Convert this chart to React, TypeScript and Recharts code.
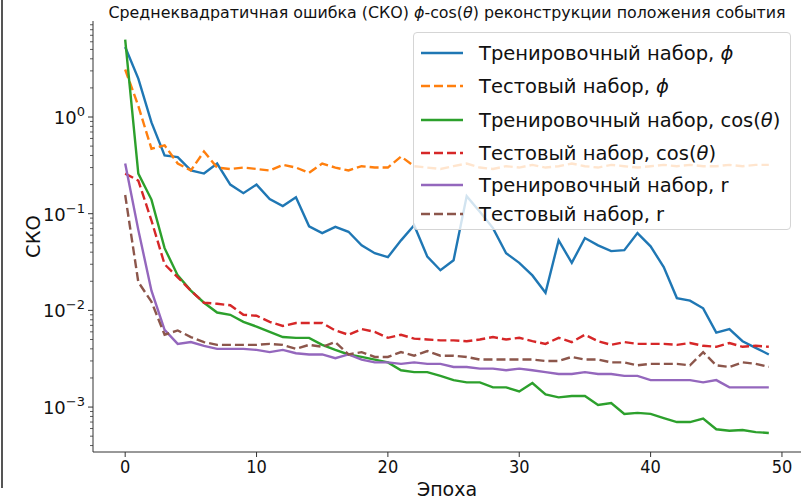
import React from "react"
import { LineChart, Line, XAxis, YAxis, Legend } from "recharts"

// Epochs on the x axis
const epochs = [
  0, 1, 2, 3, 4, 5, 6, 7, 8, 9,
  10, 11, 12, 13, 14, 15, 16, 17, 18, 19,
  20, 21, 22, 23, 24, 25, 26, 27, 28, 29,
  30, 31, 32, 33, 34, 35, 36, 37, 38, 39,
  40, 41, 42, 43, 44, 45, 46, 47, 48, 49
]

// RMSE per epoch
const trainPhi = [
  5.3, 2.5, 0.88, 0.40, 0.385, 0.28, 0.26, 0.33, 0.20, 0.163,
  0.20, 0.142, 0.12, 0.148, 0.074, 0.063, 0.073, 0.065, 0.047, 0.039,
  0.0355, 0.053, 0.076, 0.036, 0.026, 0.033, 0.152, 0.105, 0.071, 0.039,
  0.031, 0.023, 0.0152, 0.053, 0.031, 0.056, 0.047, 0.041, 0.042, 0.063,
  0.046, 0.028, 0.0134, 0.0126, 0.0105, 0.0059, 0.0064, 0.0048, 0.0041, 0.0035
]
const testPhi = [
  3.1, 1.3, 0.47, 0.51, 0.33, 0.28, 0.44, 0.30, 0.29, 0.30,
  0.29, 0.28, 0.32, 0.30, 0.265, 0.33, 0.30, 0.28, 0.31, 0.30,
  0.30, 0.39, 0.31, 0.30, 0.29, 0.31, 0.33, 0.30, 0.29, 0.31,
  0.30, 0.32, 0.30, 0.31, 0.33, 0.31, 0.30, 0.32, 0.31, 0.30,
  0.31, 0.32, 0.31, 0.32, 0.31, 0.31, 0.32, 0.31, 0.32, 0.32
]
const trainCos = [
  6.3, 0.26, 0.14, 0.044, 0.023, 0.016, 0.012, 0.0095, 0.009, 0.0076,
  0.0068, 0.006, 0.0053, 0.0052, 0.0052, 0.0044, 0.0039, 0.0035, 0.0033, 0.0031,
  0.0029, 0.0024, 0.0023, 0.0023, 0.0021, 0.0019, 0.0018, 0.0018, 0.0016, 0.0016,
  0.00145, 0.00177, 0.00135, 0.00126, 0.0013, 0.0013, 0.00105, 0.0011, 0.00085, 0.00087,
  0.00085, 0.00077, 0.0007, 0.0007, 0.00076, 0.00059, 0.00057, 0.00058, 0.00055, 0.00054
]
const testCos = [
  0.26, 0.22, 0.085, 0.03, 0.022, 0.016, 0.012, 0.0117, 0.0113, 0.009,
  0.0088, 0.0076, 0.0069, 0.0074, 0.0074, 0.0074, 0.0062, 0.0056, 0.0064, 0.006,
  0.0052, 0.0056, 0.0051, 0.005, 0.0049, 0.0049, 0.0048, 0.005, 0.0053, 0.005,
  0.0052, 0.0048, 0.0045, 0.0052, 0.0047, 0.0056, 0.0048, 0.0044, 0.0047, 0.0045,
  0.0045, 0.0045, 0.0044, 0.0046, 0.0043, 0.0042, 0.0046, 0.0042, 0.0043, 0.0042
]
const trainR = [
  0.33, 0.068, 0.016, 0.0063, 0.0045, 0.0047, 0.0043, 0.004, 0.004, 0.004,
  0.0039, 0.0037, 0.0039, 0.0036, 0.0035, 0.0035, 0.0032, 0.0035, 0.0031, 0.0029,
  0.0029, 0.0028, 0.0029, 0.0028, 0.0028, 0.0026, 0.0026, 0.0025, 0.0025, 0.0024,
  0.0025, 0.0024, 0.0023, 0.0022, 0.0022, 0.0023, 0.0022, 0.0022, 0.0021, 0.0021,
  0.0019, 0.0019, 0.0019, 0.0019, 0.0018, 0.0019, 0.0016, 0.0016, 0.0016, 0.0016
]
const testR = [
  0.156, 0.0196, 0.0123, 0.0056, 0.0062, 0.0053, 0.0047, 0.0044, 0.0044, 0.0044,
  0.0044, 0.0045, 0.0044, 0.004, 0.0044, 0.0042, 0.0047, 0.0035, 0.0037, 0.0033,
  0.0033, 0.0037, 0.0034, 0.0038, 0.0034, 0.0034, 0.0033, 0.0031, 0.0031, 0.0031,
  0.0031, 0.0031, 0.003, 0.003, 0.0033, 0.0031, 0.0031, 0.0029, 0.0029, 0.0027,
  0.0028, 0.0028, 0.0028, 0.0027, 0.0037, 0.0027, 0.0026, 0.0029, 0.0028, 0.0026
]

const xTicks = [0, 10, 20, 30, 40, 50]
const yMajor = [0.001, 0.01, 0.1, 1]
const yMinor = [
  0.0004, 0.0005, 0.0006, 0.0007, 0.0008, 0.0009,
  0.002, 0.003, 0.004, 0.005, 0.006, 0.007, 0.008, 0.009,
  0.02, 0.03, 0.04, 0.05, 0.06, 0.07, 0.08, 0.09,
  0.2, 0.3, 0.4, 0.5, 0.6, 0.7, 0.8, 0.9,
  2, 3, 4, 5, 6, 7, 8, 9
]

const FONT = "'DejaVu Sans', sans-serif"
const FONT_NARROW = "'DejaVu Sans Condensed', 'DejaVu Sans', sans-serif"

const Phi = () => <tspan fontStyle="italic">ϕ</tspan>
const Theta = () => <tspan fontStyle="italic">θ</tspan>

const series = [
  { key: "trainPhi", color: "#1f77b4", dashed: false, label: <>Тренировочный набор, <Phi /></> },
  { key: "testPhi", color: "#ff7f0e", dashed: true, label: <>Тестовый набор, <Phi /></> },
  { key: "trainCos", color: "#2ca02c", dashed: false, label: <>Тренировочный набор, cos(<Theta />)</> },
  { key: "testCos", color: "#d62728", dashed: true, label: <>Тестовый набор, cos(<Theta />)</> },
  { key: "trainR", color: "#9467bd", dashed: false, label: <>Тренировочный набор, r</> },
  { key: "testR", color: "#8c564b", dashed: true, label: <>Тестовый набор, r</> }
]

const data = epochs.map((epoch, i) => ({
  epoch,
  trainPhi: trainPhi[i],
  testPhi: testPhi[i],
  trainCos: trainCos[i],
  testCos: testCos[i],
  trainR: trainR[i],
  testR: testR[i]
}))

const DASH = "9 4"
const legendRows = [52, 85, 119, 152, 184, 213]

// log-axis tick: major ticks get a 10^n label, minor ones just a short mark
const LogTick = (props: any) => {
  const { x, y, payload } = props
  const v = payload.value
  const lg = Math.log10(v)
  const exp = Math.round(lg)
  if (Math.abs(lg - exp) > 1e-6) {
    return <line x1={x - 3} x2={x} y1={y} y2={y} stroke="#333" strokeWidth={0.8} />
  }
  return (
    <g>
      <line x1={x - 5} x2={x} y1={y} y2={y} stroke="#333" strokeWidth={1} />
      <text x={x - 8} y={y + 7} textAnchor="end" fontSize={18} fontFamily={FONT} fill="#111">
        <tspan>10</tspan>
        <tspan dy={-8} fontSize={13}>{exp === 0 ? "0" : "−" + Math.abs(exp)}</tspan>
      </text>
    </g>
  )
}

const EpochTick = (props: any) => {
  const { x, y, payload } = props
  return (
    <text x={x} y={y + 14} textAnchor="middle" fontSize={18} fontFamily={FONT_NARROW} fontStretch="condensed" fill="#111">
      {payload.value}
    </text>
  )
}

const LegendBox = () => (
  <div
    style={{
      position: "relative",
      width: 378,
      height: 198,
      boxSizing: "border-box",
      border: "1px solid #d5d5d5",
      borderRadius: 4,
      background: "rgba(255,255,255,0.8)"
    }}
  >
    <svg width={378} height={198} style={{ position: "absolute", left: 0, top: 0 }}>
      {series.map((s, i) => {
        const cy = legendRows[i] - 32
        return (
          <g key={s.key}>
            <line
              x1={7}
              x2={49}
              y1={cy}
              y2={cy}
              stroke={s.color}
              strokeWidth={2.5}
              strokeDasharray={s.dashed ? DASH : undefined}
            />
            <text x={65} y={cy + 7} fontSize={19.5} fontFamily={FONT} fill="#111">
              {s.label}
            </text>
          </g>
        )
      })}
    </svg>
  </div>
)

export default function App() {
  return (
    <div
      style={{
        position: "absolute",
        left: 0,
        top: 0,
        width: 801,
        height: 502,
        overflow: "hidden",
        background: "#fff"
      }}
    >
      <div style={{ position: "absolute", left: 1, top: 0, width: 2, height: 488, background: "#555" }} />
      <svg width={801} height={24} style={{ position: "absolute", left: 0, top: 0 }}>
        <text x={447} y={18} textAnchor="middle" fontSize={16.5} fontFamily={FONT_NARROW} fontStretch="condensed" fill="#111" textLength={677} lengthAdjust="spacingAndGlyphs">
          Среднеквадратичная ошибка (СКО) <Phi />-cos(<Theta />) реконструкции положения события
        </text>
      </svg>
      <LineChart
        width={810}
        height={502}
        data={data}
        margin={{ top: 21, right: 9, left: 0, bottom: 0 }}
        style={{ position: "absolute", left: 0, top: 0 }}
      >
        <XAxis
          dataKey="epoch"
          type="number"
          domain={[-2.45, 51.45]}
          ticks={xTicks}
          interval={0}
          height={50}
          tickSize={5}
          tickMargin={2}
          axisLine={{ stroke: "#333", strokeWidth: 1 }}
          tickLine={{ stroke: "#333", strokeWidth: 1 }}
          tick={<EpochTick />}
          allowDataOverflow
          label={{
            content: (p: any) => (
              <text
                x={p.viewBox.x + p.viewBox.width / 2}
                y={p.viewBox.y + 44}
                textAnchor="middle"
                fontSize={19}
                fontFamily={FONT}
                fill="#111"
              >
                Эпоха
              </text>
            )
          }}
        />
        <XAxis
          xAxisId="top"
          orientation="top"
          type="number"
          domain={[-2.45, 51.45]}
          height={0}
          tick={false}
          tickLine={false}
          axisLine={{ stroke: "#333", strokeWidth: 1 }}
        />
        <YAxis
          type="number"
          scale="log"
          domain={[0.000343, 9.84]}
          allowDataOverflow
          ticks={[...yMinor, ...yMajor]}
          interval={0}
          width={93}
          tickSize={0}
          tickMargin={0}
          tickLine={false}
          axisLine={{ stroke: "#333", strokeWidth: 1 }}
          tick={<LogTick />}
          label={{
            content: (p: any) => {
              const cx = 33
              const cy = p.viewBox.y + p.viewBox.height / 2
              return (
                <text
                  x={cx}
                  y={cy}
                  transform={`rotate(-90 ${cx} ${cy})`}
                  textAnchor="middle"
                  dominantBaseline="central"
                  fontSize={19.5}
                  fontFamily={FONT}
                  fill="#111"
                >
                  СКО
                </text>
              )
            }
          }}
        />
        <YAxis
          yAxisId="right"
          orientation="right"
          width={0}
          tick={false}
          tickLine={false}
          axisLine={{ stroke: "#333", strokeWidth: 1 }}
        />
        {series.map((s) => (
          <Line
            key={s.key}
            type="linear"
            dataKey={s.key}
            stroke={s.color}
            strokeWidth={2.4}
            strokeDasharray={s.dashed ? DASH : undefined}
            dot={false}
            activeDot={false}
            isAnimationActive={false}
          />
        ))}
        <Legend
          layout="vertical"
          align="center"
          verticalAlign="middle"
          content={() => <LegendBox />}
          wrapperStyle={{ position: "absolute", left: 413, top: 32, width: 378, height: 198 }}
        />
      </LineChart>
    </div>
  )
}
